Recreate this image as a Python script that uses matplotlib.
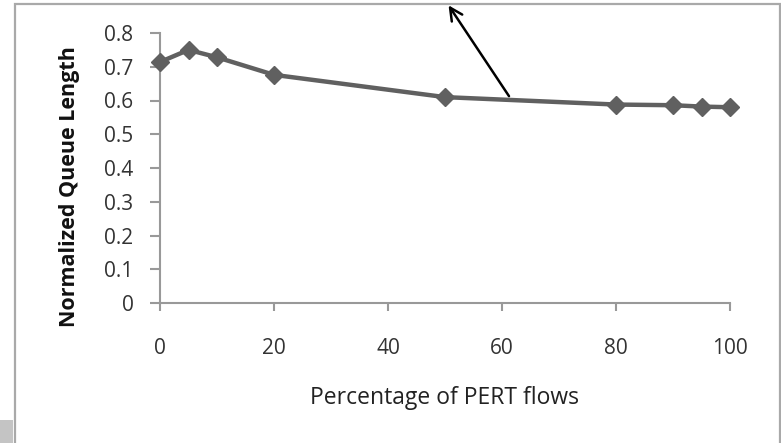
import matplotlib
matplotlib.use("Agg")
import matplotlib.pyplot as plt
from matplotlib.patches import Rectangle

# Normalized queue length vs share of PERT flows
pert_pct = [0, 5, 10, 20, 50, 80, 90, 95, 100]
queue_len = [0.714, 0.750, 0.728, 0.676, 0.610, 0.588, 0.586, 0.582, 0.580]
y_ticks = [0, 0.1, 0.2, 0.3, 0.4, 0.5, 0.6, 0.7, 0.8]
y_tick_labels = ["0", "0.1", "0.2", "0.3", "0.4", "0.5", "0.6", "0.7", "0.8"]
x_ticks = [0, 20, 40, 60, 80, 100]

W, H = 781, 443
fig = plt.figure(figsize=(W / 100, H / 100), dpi=100)
plt.rcParams["font.family"] = ["Open Sans", "DejaVu Sans"]

# outer chart-area frame (bottom edge runs off the figure)
fig.patches.append(Rectangle((15 / W, -0.05), (780 - 15) / W, 1.05 - 4 / H,
                             transform=fig.transFigure, fill=False,
                             edgecolor="#a9a9a9", lw=1.6))
fig.patches.append(Rectangle((0, 0), 13 / W, 23 / H, transform=fig.transFigure,
                             facecolor="#c4c4c4", edgecolor="none"))

ax_l, ax_r, ax_t, ax_b = 160, 730, 33, 303
ax = fig.add_axes([ax_l / W, 1 - ax_b / H, (ax_r - ax_l) / W, (ax_b - ax_t) / H])
ax.plot(pert_pct, queue_len, color="#606060", lw=3.2, marker="D",
        markersize=9.5, markeredgecolor="#606060", clip_on=False, zorder=3)

ax.set_xlim(0, 100)
ax.set_ylim(0, 0.8)
ax.set_xticks(x_ticks)
ax.set_yticks(y_ticks)
ax.set_yticklabels(y_tick_labels)

for side in ("top", "right"):
    ax.spines[side].set_visible(False)
for side in ("left", "bottom"):
    ax.spines[side].set_color("#999999")
    ax.spines[side].set_linewidth(1.5)
ax.spines["bottom"].set_bounds(0, 100)

ax.tick_params(axis="y", direction="out", length=7, width=1.5, color="#999999",
               pad=12, labelsize=15, labelcolor="#333333")
ax.tick_params(axis="x", direction="out", length=6, width=1.5, color="#999999",
               pad=19, labelsize=15, labelcolor="#333333")

ax.set_xlabel("Percentage of PERT flows", fontsize=16.5, color="#222222")
ax.xaxis.set_label_coords((444 - ax_l) / (ax_r - ax_l), (ax_b - 398) / (ax_b - ax_t))
ax.xaxis.label.set_va("center")

ax.set_ylabel("Normalized Queue Length", fontsize=15.5, fontweight="bold",
              color="#111111")
ax.yaxis.set_label_coords((70 - ax_l) / (ax_r - ax_l), (ax_b - 187) / (ax_b - ax_t))
ax.yaxis.label.set_ha("center")
ax.yaxis.label.set_va("center")

# pointer arrow from the curve up to the top of the frame
ax.annotate("", xy=(447 / W, 1 - 3 / H), xycoords="figure fraction",
            xytext=(61.5, 0.606), textcoords="data",
            arrowprops=dict(arrowstyle="->,head_length=0.9,head_width=0.45",
                            color="black", lw=1.8))

fig.savefig("out.png", dpi=100)
